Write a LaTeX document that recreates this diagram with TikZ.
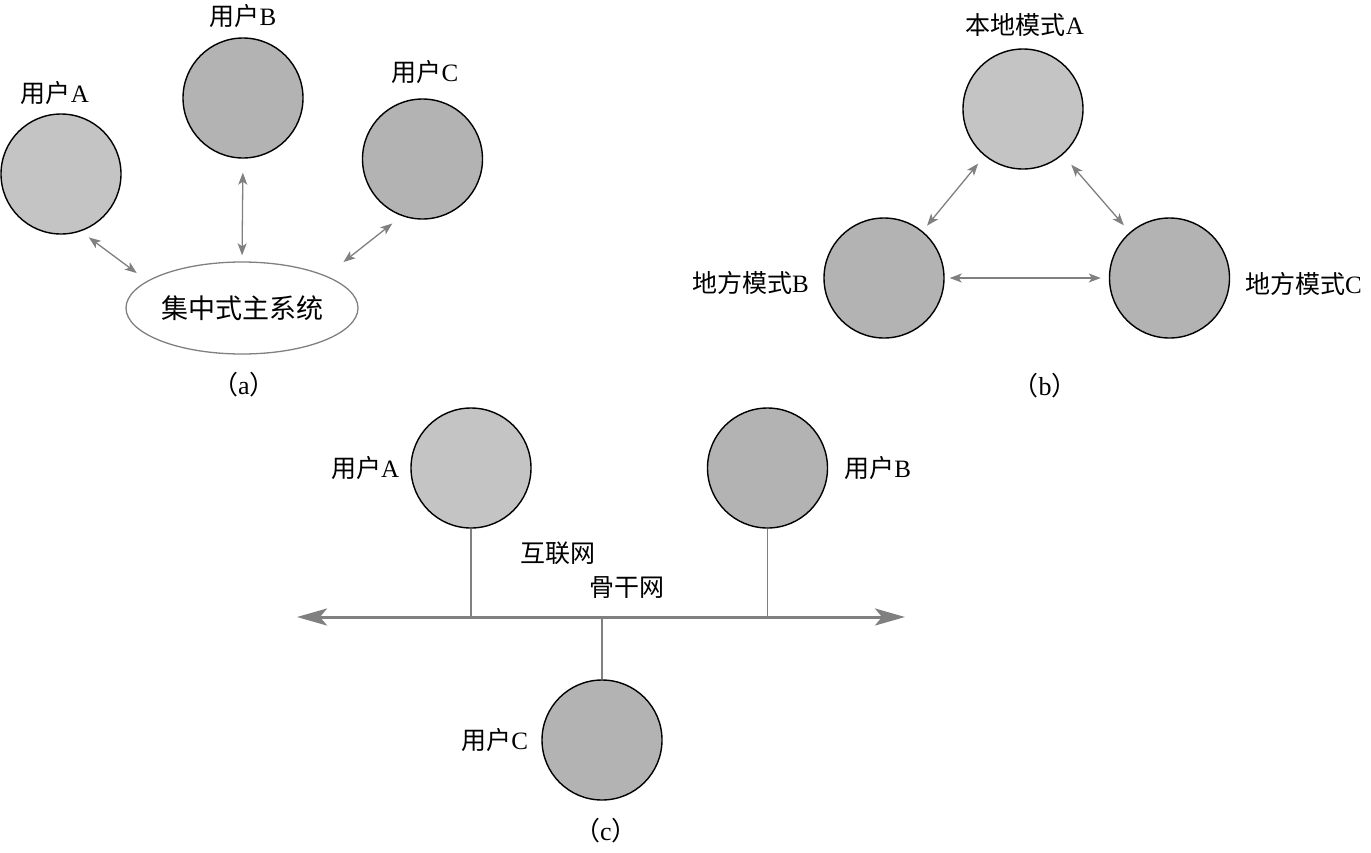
\documentclass[tikz,border=0pt]{standalone}
\usepackage{fontspec}
\setmainfont{Liberation Serif}
\newfontfamily\cjk{Noto Sans CJK SC}
\usepackage{xcolor}
\definecolor{gray300}{HTML}{C4C4C4}
\definecolor{gray400}{HTML}{B3B3B3}
\definecolor{gray600}{HTML}{808080}
\usepackage{tikz}
\usetikzlibrary{arrows.meta, positioning, shapes.geometric}

\begin{document}
\begin{tikzpicture}[
        x=1pt, y=-1pt,
        site/.style={draw=black, line width=1.4pt, circle, minimum size=120pt, inner sep=0pt, fill=gray400},
        lightsite/.style={site, fill=gray300},
        hub/.style={draw=gray600, line width=1.3pt, ellipse, minimum width=232pt, minimum height=92pt, inner sep=0pt, font=\fontsize{27}{32}\selectfont\cjk},
        link/.style={<->, >={Stealth[length=12pt, width=9pt, inset=3pt]}, line width=1.3pt, draw=gray600, fill=gray600},
        bus/.style={<->, >={Stealth[length=30pt, width=17pt, inset=7pt]}, line width=3pt, draw=gray600, fill=gray600},
        tap/.style={line width=1.3pt, draw=gray600},
        tag/.style={inner sep=0pt, font=\fontsize{25}{30}\selectfont},
        caption/.style={inner sep=0pt, font=\fontsize{26}{30}\selectfont}
    ]
        \useasboundingbox (0,0) rectangle (1371,852);

        % (a) centralised system
        \node[lightsite] (ua) at (61,174) {};
        \node[site] (ub) at (243,98) {};
        \node[site] (uc) at (422.5,159) {};
        \node[hub] (sys) at (242,308) {集中式主系统};
        \node[tag] (ua-t) at (55,93) {{\cjk 用户}A};
        \node[tag] (ub-t) at (243,16) {{\cjk 用户}B};
        \node[tag] (uc-t) at (425,72) {{\cjk 用户}C};
        \node[caption] (cap-a) at (244,385) {{\cjk （}a{\cjk ）}};

        \draw[link, shorten <=10pt, shorten >=13pt] (ua.-71) -- (sys.164);
        \draw[link, shorten <=14pt, shorten >=6pt] (ub.south) -- (sys.north);
        \draw[link, shorten <=12pt, shorten >=22pt] (uc.-110) -- (sys.21);

        % (b) distributed modes
        \node[lightsite] (ma) at (1023,109) {};
        \node[site] (mb) at (884,278) {};
        \node[site] (mc) at (1169.5,278) {};
        \node[tag] (ma-t) at (1025,25) {{\cjk 本地模式}A};
        \node[tag, anchor=east] (mb-t) at (809,283) {{\cjk 地方模式}B};
        \node[tag, anchor=west] (mc-t) at (1245,284) {{\cjk 地方模式}C};
        \node[caption] (cap-b) at (1045,386) {{\cjk （}b{\cjk ）}};

        \draw[link, shorten <=10pt, shorten >=7pt] (ma) -- (mb);
        \draw[link, shorten <=13pt, shorten >=9pt] (ma) -- (mc);
        \draw[link, shorten <=5pt, shorten >=8pt] (mb) -- (mc);

        % (c) backbone network
        \node[lightsite] (ca) at (471,468) {};
        \node[site] (cb) at (767.5,468) {};
        \node[site] (cc) at (602,740) {};
        \node[tag, left=11pt of ca] (ca-t) {{\cjk 用户}A};
        \node[tag, right=16pt of cb] (cb-t) {{\cjk 用户}B};
        \node[tag, left=13pt of cc] (cc-t) {{\cjk 用户}C};
        \node[tag, font=\fontsize{25}{30}\selectfont\cjk] (net-t) at (558,553) {互联网};
        \node[tag, font=\fontsize{25}{30}\selectfont\cjk] (bone-t) at (626.5,588) {骨干网};
        \node[caption] (cap-c) at (606,831) {{\cjk （}c{\cjk ）}};

        \coordinate (busL) at (297,617);
        \coordinate (busR) at (905,617);
        \draw[bus] (busL) -- (busR);
        \draw[tap] (ca.south) -- (ca.south |- busL);
        \draw[tap] (cb.south) -- (cb.south |- busL);
        \draw[tap] (cc.north) -- (cc.north |- busL);

    \end{tikzpicture}
\end{document}
